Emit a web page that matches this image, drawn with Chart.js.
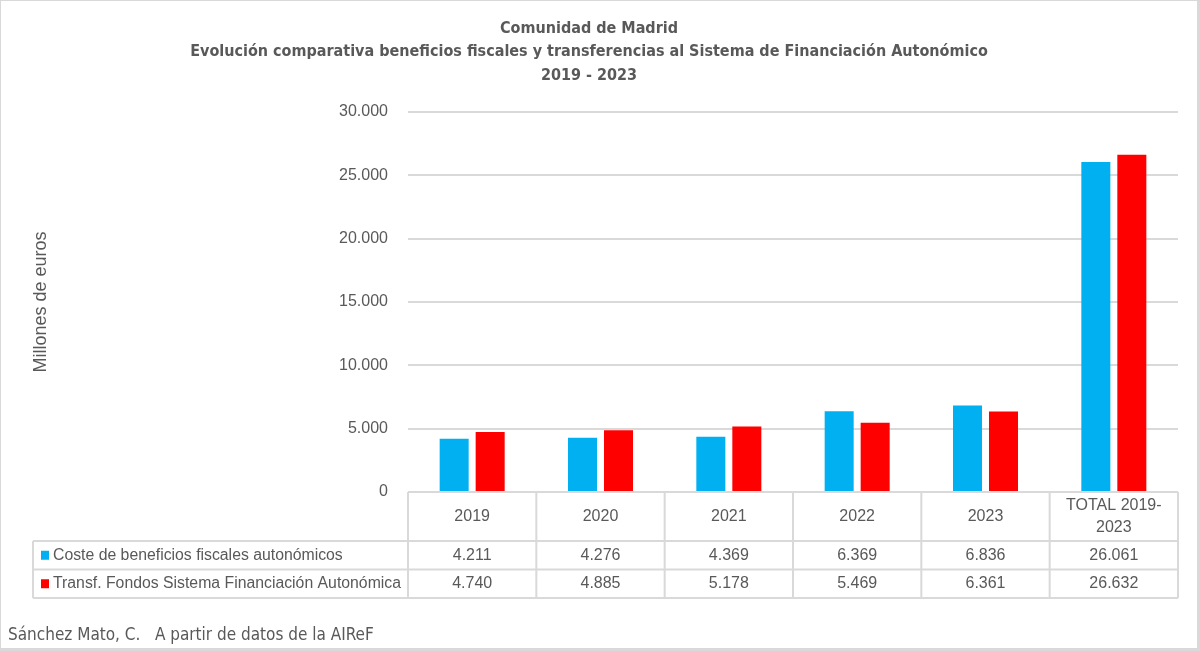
<!DOCTYPE html>
<html>
<head>
<meta charset="utf-8">
<script src="https://cdn.jsdelivr.net/npm/chart.js@4.4.1/dist/chart.umd.min.js"></script>
<style>
  html, body { margin: 0; padding: 0; background: #fff; }
  #wrap { width: 1200px; height: 651px; }
</style>
</head>
<body>
<div id="wrap"><canvas id="chart" width="1200" height="651"></canvas></div>
<script>
var categories = ["2019", "2020", "2021", "2022", "2023", "TOTAL 2019-2023"];
var headerLines = [["2019"], ["2020"], ["2021"], ["2022"], ["2023"], ["TOTAL 2019-", "2023"]];
var seriesNames = ["Coste de beneficios fiscales autonómicos", "Transf. Fondos Sistema Financiación Autonómica"];
var coste = [4211, 4276, 4369, 6369, 6836, 26061];
var transf = [4740, 4885, 5178, 5469, 6361, 26632];
var seriesColors = ["#00B0F0", "#FF0000"];
var titleLines = ["Comunidad de Madrid", "Evolución comparativa beneficios fiscales y transferencias al Sistema de Financiación Autonómico", "2019 - 2023"];
var yTitle = "Millones de euros";
var sourceNote = "Sánchez Mato, C.   A partir de datos de la AIReF";

var textGray = "#595959";
var lineGray = "#d9d9d9";
var baseFont = "'Liberation Sans', Arial, sans-serif";
var narrowFont = "'Liberation Sans Narrow', 'DejaVu Sans Condensed', 'Liberation Sans', sans-serif";

// thousands with a dot, spanish style
function fmt(v) {
    return String(v).replace(/\B(?=(\d{3})+(?!\d))/g, ".");
}

// grey frame round the whole picture
var framePlugin = {
    id: "frame",
    beforeDraw: function(chart) {
        var ctx = chart.ctx;
        ctx.save();
        ctx.fillStyle = lineGray;
        ctx.fillRect(0, 0, chart.width, chart.height);
        ctx.fillStyle = "#ffffff";
        ctx.fillRect(1, 1, chart.width - 4, chart.height - 4);
        ctx.restore();
    }
};

// excel style data table under the bars
var tablePlugin = {
    id: "dataTable",
    afterDraw: function(chart) {
        var ctx = chart.ctx;
        var ca = chart.chartArea;
        var n = categories.length;
        var colW = (ca.right - ca.left) / n;
        var tableLeft = 33;
        var headTop = ca.bottom;
        var headBottom = headTop + 49;
        var rowH = 28.5;
        var tableBottom = headBottom + rowH * 2;
        var i, r;

        ctx.save();
        ctx.strokeStyle = lineGray;
        ctx.lineWidth = 2;
        ctx.beginPath();
        ctx.moveTo(ca.left, headTop);
        ctx.lineTo(ca.right, headTop);
        for (r = 0; r <= 2; r++) {
            ctx.moveTo(tableLeft, headBottom + r * rowH);
            ctx.lineTo(ca.right, headBottom + r * rowH);
        }
        for (i = 0; i <= n; i++) {
            ctx.moveTo(ca.left + i * colW, headTop);
            ctx.lineTo(ca.left + i * colW, tableBottom);
        }
        ctx.moveTo(tableLeft, headBottom);
        ctx.lineTo(tableLeft, tableBottom);
        ctx.stroke();

        ctx.fillStyle = textGray;
        ctx.font = "16px " + baseFont;
        ctx.textAlign = "center";
        ctx.textBaseline = "middle";
        for (i = 0; i < n; i++) {
            var cx = chart.scales.x.getPixelForValue(i);
            var lines = headerLines[i];
            var midY = (headTop + headBottom) / 2;
            for (var k = 0; k < lines.length; k++) {
                ctx.fillText(lines[k], cx, midY + (k - (lines.length - 1) / 2) * 22);
            }
        }

        chart.data.datasets.forEach(function(ds, d) {
            var cy = headBottom + d * rowH + rowH / 2;
            ctx.fillStyle = ds.backgroundColor;
            ctx.fillRect(41, cy - 4.5, 8, 9);
            ctx.fillStyle = textGray;
            ctx.textAlign = "left";
            ctx.font = "15.8px " + baseFont;
            ctx.fillText(ds.label, 53, cy);
            ctx.font = "16px " + baseFont;
            ctx.textAlign = "center";
            for (i = 0; i < n; i++) {
                ctx.fillText(fmt(ds.data[i]), chart.scales.x.getPixelForValue(i), cy);
            }
        });

        ctx.textAlign = "left";
        ctx.font = "17px " + narrowFont;
        ctx.fillText(sourceNote, 8, 636);
        ctx.restore();
    }
};

var chart = new Chart(document.getElementById("chart"), {
    type: "bar",
    data: {
        labels: categories,
        datasets: [{
            label: seriesNames[0],
            data: coste,
            backgroundColor: seriesColors[0],
            borderWidth: 0
        }, {
            label: seriesNames[1],
            data: transf,
            backgroundColor: seriesColors[1],
            borderWidth: 0
        }]
    },
    options: {
        responsive: false,
        animation: false,
        layout: { padding: { left: 0, right: 22, top: 0, bottom: 159 } },
        datasets: { bar: { categoryPercentage: 0.561, barPercentage: 0.806 } },
        plugins: {
            legend: { display: false },
            tooltip: { enabled: false },
            title: {
                display: true,
                text: titleLines,
                color: textGray,
                font: { family: narrowFont, size: 16, weight: "bold", lineHeight: 1.47 },
                padding: { top: 17, bottom: 24.5 }
            }
        },
        scales: {
            x: { display: false },
            y: {
                min: 0,
                max: 30000,
                ticks: {
                    stepSize: 5000,
                    callback: function(v) { return fmt(v); },
                    color: textGray,
                    font: { family: baseFont, size: 16 },
                    padding: 20
                },
                grid: { color: lineGray, lineWidth: 2, drawTicks: false },
                border: { display: false },
                title: {
                    display: true,
                    text: yTitle,
                    color: textGray,
                    font: { family: baseFont, size: 18 },
                    padding: { top: 30, bottom: 0 }
                },
                afterFit: function(scale) { scale.width = 408; }
            }
        }
    },
    plugins: [framePlugin, tablePlugin]
});
</script>
</body>
</html>
